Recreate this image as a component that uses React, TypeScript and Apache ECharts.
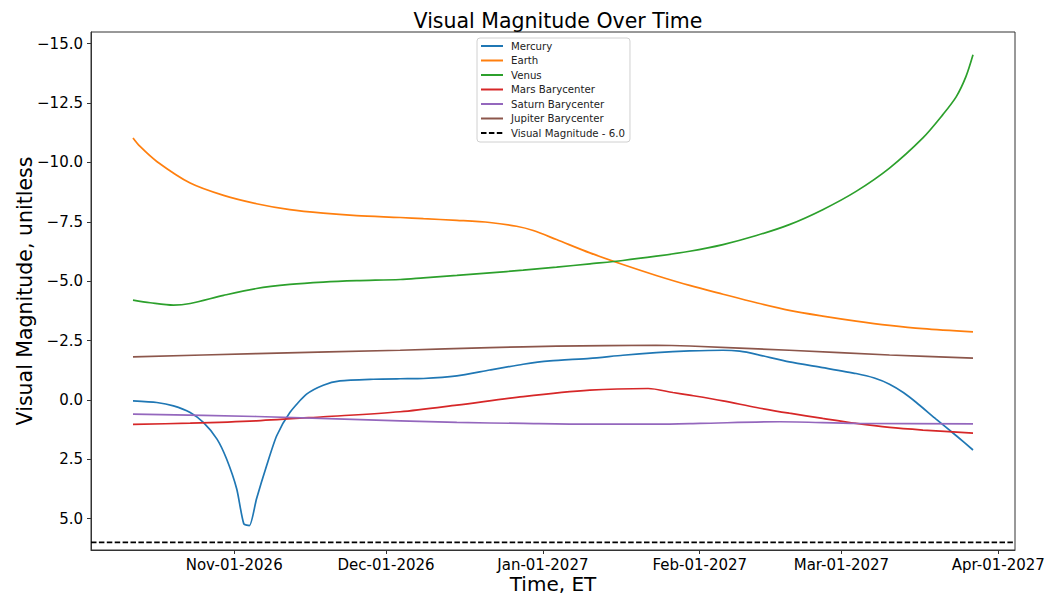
import React, { useEffect, useRef } from "react";
import * as echarts from "echarts";

const DAY = 86400000;
const START = Date.UTC(2026, 9, 12);
const SPAN_DAYS = 166;
const PAD_DAYS = 8.3;

const SERIES_NAMES = [
  "Mercury",
  "Earth",
  "Venus",
  "Mars Barycenter",
  "Saturn Barycenter",
  "Jupiter Barycenter",
];
const LIMIT_NAME = "Visual Magnitude - 6.0";
const LIMIT_VALUE = 6.0;

const MERCURY_DAYS = [0, 4.7, 8, 11.3, 13.9, 16.6, 18.5, 20.5, 21.9, 23, 24.4, 26.4, 28.4, 31, 34.3, 37.6, 40.9, 47.5, 52.8, 57.4, 64, 70.5, 77.1, 82.4, 90.3, 96.8, 103.4, 110, 116.6, 119.9, 123.2, 129.7, 136.3, 142.9, 146.5, 149.5, 152.3, 154.8, 158.7, 162.7, 166];
const MERCURY_MAG = [0.04, 0.11, 0.25, 0.53, 0.95, 1.65, 2.49, 3.75, 5.22, 5.29, 4.17, 2.77, 1.51, 0.53, -0.24, -0.62, -0.8, -0.87, -0.89, -0.9, -1.01, -1.26, -1.5, -1.64, -1.75, -1.88, -1.99, -2.06, -2.09, -2.05, -1.92, -1.6, -1.36, -1.11, -0.92, -0.66, -0.3, 0.11, 0.81, 1.51, 2.11];

const EARTH_DAYS = [0, 1.4, 4.7, 11.3, 17.9, 24.4, 31, 37.6, 44.2, 52.8, 57.4, 64, 70.5, 75.8, 79.1, 83.7, 90.3, 96.8, 103.4, 110, 116.6, 123.2, 129.7, 136.3, 142.9, 149.5, 156.1, 166];
const EARTH_MAG = [-11.03, -10.67, -10.04, -9.13, -8.61, -8.26, -8.01, -7.86, -7.76, -7.68, -7.63, -7.56, -7.47, -7.31, -7.13, -6.75, -6.19, -5.7, -5.24, -4.82, -4.45, -4.09, -3.77, -3.53, -3.32, -3.14, -3.0, -2.86];

const VENUS_DAYS = [0, 3.4, 8, 11.3, 17.9, 24.4, 31, 37.6, 44.2, 52.8, 57.4, 64, 70.5, 77.1, 83.7, 90.3, 96.8, 103.4, 110, 116.6, 123.2, 129.7, 136.3, 142.9, 149.5, 156.1, 160, 162.7, 164.6, 166];
const VENUS_MAG = [-4.2, -4.09, -3.99, -4.06, -4.4, -4.69, -4.86, -4.96, -5.02, -5.07, -5.14, -5.24, -5.35, -5.46, -5.59, -5.73, -5.87, -6.05, -6.26, -6.54, -6.92, -7.38, -8.01, -8.78, -9.76, -11.03, -12.0, -12.77, -13.61, -14.53];

const MARS_DAYS = [0, 11.3, 24.4, 37.6, 52.8, 64, 77.1, 90.3, 101.8, 106.7, 110, 116.6, 123.2, 129.7, 136.3, 142.9, 149.5, 156.1, 166];
const MARS_MAG = [1.03, 0.98, 0.88, 0.71, 0.5, 0.22, -0.14, -0.41, -0.48, -0.31, -0.2, 0.04, 0.32, 0.56, 0.78, 0.99, 1.16, 1.27, 1.4];

const SATURN_DAYS = [0, 24.4, 52.8, 64, 77.1, 90.3, 103.4, 112, 127.8, 142.9, 166];
const SATURN_MAG = [0.6, 0.7, 0.88, 0.95, 0.99, 1.02, 1.02, 0.99, 0.92, 0.99, 1.01];

const JUPITER_DAYS = [0, 24.4, 52.8, 70.5, 83.7, 103.4, 110, 129.7, 149.5, 166];
const JUPITER_MAG = [-1.81, -1.95, -2.09, -2.2, -2.26, -2.3, -2.27, -2.09, -1.89, -1.76];

const COLORS = ["#1f77b4", "#ff7f0e", "#2ca02c", "#d62728", "#9467bd", "#8c564b"];
const SMOOTH = [0.22, 0.3, 0.3, 0.3, 0.3, 0.3];

const Y_TICKS = [-15, -12.5, -10, -7.5, -5, -2.5, 0, 2.5, 5];
const X_TICKS = [
  Date.UTC(2026, 10, 1),
  Date.UTC(2026, 11, 1),
  Date.UTC(2027, 0, 1),
  Date.UTC(2027, 1, 1),
  Date.UTC(2027, 2, 1),
  Date.UTC(2027, 3, 1),
];
const MONTHS = ["Jan", "Feb", "Mar", "Apr", "May", "Jun", "Jul", "Aug", "Sep", "Oct", "Nov", "Dec"];

const FONT = "DejaVu Sans";

function toData(days: number[], mags: number[]) {
  return days.map((d, i) => [START + d * DAY, mags[i]]);
}

function fmtDate(v: number) {
  const d = new Date(v);
  const dd = String(d.getUTCDate()).padStart(2, "0");
  return `${MONTHS[d.getUTCMonth()]}-${dd}-${d.getUTCFullYear()}`;
}

function fmtMag(v: number) {
  const s = Math.abs(v).toFixed(1);
  return v < 0 ? "\u2212" + s : s;
}

export default function App() {
  const ref = useRef<HTMLDivElement>(null);

  useEffect(() => {
    if (!ref.current) return;
    const chart = echarts.init(ref.current, undefined, { renderer: "svg" });
    const xMin = START - PAD_DAYS * DAY;
    const xMax = START + (SPAN_DAYS + PAD_DAYS) * DAY;

    const dataSets = [
      toData(MERCURY_DAYS, MERCURY_MAG),
      toData(EARTH_DAYS, EARTH_MAG),
      toData(VENUS_DAYS, VENUS_MAG),
      toData(MARS_DAYS, MARS_MAG),
      toData(SATURN_DAYS, SATURN_MAG),
      toData(JUPITER_DAYS, JUPITER_MAG),
    ];

    const series: any[] = SERIES_NAMES.map((name, i) => ({
      name,
      type: "line",
      data: dataSets[i],
      showSymbol: false,
      symbol: "none",
      smooth: SMOOTH[i],
      color: COLORS[i],
      lineStyle: { width: 1.7, color: COLORS[i] },
      z: 3,
    }));
    series.push({
      name: LIMIT_NAME,
      type: "line",
      data: [
        [xMin, LIMIT_VALUE],
        [xMax, LIMIT_VALUE],
      ],
      showSymbol: false,
      symbol: "none",
      color: "#000",
      lineStyle: { width: 1.7, color: "#000", type: [5.5, 2.4] },
      z: 2,
    });

    chart.setOption({
      animation: false,
      backgroundColor: "#fff",
      textStyle: { fontFamily: FONT },
      title: {
        text: "Visual Magnitude Over Time",
        left: 553,
        textAlign: "center",
        top: 5,
        textStyle: { fontFamily: FONT, fontSize: 20.5, fontWeight: "normal", color: "#000" },
      },
      legend: {
        orient: "vertical",
        left: 477,
        top: 38,
        padding: [3, 5, 4, 3],
        itemWidth: 22,
        itemHeight: 10,
        itemGap: 4.5,
        itemStyle: { opacity: 0 },
        backgroundColor: "rgba(255,255,255,0.8)",
        borderColor: "#d0d0d0",
        borderWidth: 1,
        borderRadius: 3,
        textStyle: { fontFamily: FONT, fontSize: 10.2, color: "#222", padding: [0, 0, 0, 3] },
        data: [...SERIES_NAMES, LIMIT_NAME],
      },
      grid: {
        left: 91,
        right: 32,
        top: 32,
        bottom: 47,
        outerBoundsMode: "none",
        containLabel: false,
        show: true,
        borderColor: "#333",
        borderWidth: 1,
        backgroundColor: "transparent",
      },
      xAxis: {
        type: "value",
        min: xMin,
        max: xMax,
        name: "Time, ET",
        nameLocation: "middle",
        nameMoveOverlap: false,
        nameGap: 24,
        nameTextStyle: { fontFamily: FONT, fontSize: 20, lineHeight: 20, color: "#000" },
        axisLine: { show: true, onZero: false, lineStyle: { color: "#333", width: 1 } },
        axisTick: { show: true, customValues: X_TICKS, length: 4, lineStyle: { color: "#333" } },
        axisLabel: {
          customValues: X_TICKS,
          formatter: (v: number) => fmtDate(v),
          fontFamily: FONT,
          fontSize: 15,
          color: "#000",
          margin: 7,
        },
        splitLine: { show: false },
      },
      yAxis: {
        type: "value",
        inverse: true,
        min: -15.49,
        max: 6.32,
        name: "Visual Magnitude, unitless",
        nameLocation: "middle",
        nameRotate: 90,
        nameMoveOverlap: false,
        nameGap: 56,
        nameTextStyle: { fontFamily: FONT, fontSize: 20.5, color: "#000" },
        axisLine: { show: true, onZero: false, lineStyle: { color: "#333", width: 1 } },
        axisTick: { show: true, customValues: Y_TICKS, length: 4, lineStyle: { color: "#333" } },
        axisLabel: {
          customValues: Y_TICKS,
          formatter: (v: number) => fmtMag(v),
          fontFamily: FONT,
          fontSize: 15,
          color: "#000",
          margin: 8,
        },
        splitLine: { show: false },
      },
      series,
    });

    return () => chart.dispose();
  }, []);

  return (
    <div
      ref={ref}
      style={{ position: "fixed", left: 0, top: 0, width: 1047, height: 597 }}
    />
  );
}
